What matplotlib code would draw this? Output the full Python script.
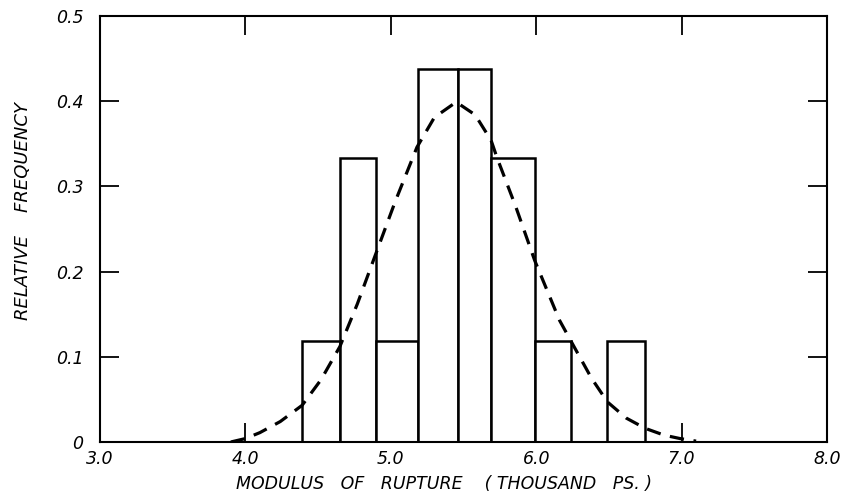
import numpy as np
import matplotlib
matplotlib.use("Agg")
import matplotlib.pyplot as plt

# histogram bins (thousand psi) and relative frequencies
bin_edges = [4.39, 4.65, 4.90, 5.19, 5.46, 5.69, 5.99, 6.24, 6.49, 6.75]
rel_freq = [0.118, 0.333, 0.118, 0.438, 0.438, 0.333, 0.118, 0.0, 0.118]

# fitted curve, points
curve_x = [3.90, 4.00, 4.10, 4.24, 4.39, 4.52, 4.65, 4.77, 4.88, 5.03, 5.18,
           5.30, 5.45, 5.58, 5.69, 5.73, 5.86, 5.99, 6.16, 6.26, 6.38, 6.49,
           6.62, 6.75, 6.88, 6.99, 7.10]
curve_y = [0.000, 0.004, 0.011, 0.024, 0.043, 0.073, 0.112, 0.162, 0.213, 0.282, 0.346,
           0.381, 0.399, 0.384, 0.354, 0.334, 0.276, 0.213, 0.143, 0.112, 0.075, 0.047,
           0.028, 0.016, 0.008, 0.004, 0.001]

xticks = [3.0, 4.0, 5.0, 6.0, 7.0, 8.0]
xtick_labels = ["3.0", "4.0", "5.0", "6.0", "7.0", "8.0"]
yticks = [0, 0.1, 0.2, 0.3, 0.4, 0.5]
ytick_labels = ["0", "0.1", "0.2", "0.3", "0.4", "0.5"]

plt.rcParams['font.family'] = ['DejaVu Sans']
fig = plt.figure(figsize=(8.53, 4.97), dpi=100)
ax = fig.add_axes([0.1172, 0.1107, 0.8523, 0.8571])

lefts = np.array(bin_edges[:-1])
widths = np.diff(bin_edges)
for l, w, h in zip(lefts, widths, rel_freq):
    if h > 0:
        ax.bar(l, h, width=w, align="edge", facecolor="white",
               edgecolor="black", linewidth=1.8, zorder=2)

ax.plot(curve_x, curve_y, color="black", linewidth=2.3,
        linestyle=(0, (4.5, 3.0)), zorder=3)

ax.set_xlim(3.0, 8.0)
ax.set_ylim(0, 0.5)
ax.set_xticks(xticks)
ax.set_xticklabels(xtick_labels, fontstyle="italic", fontsize=12.5)
ax.set_yticks(yticks)
ax.set_yticklabels(ytick_labels, fontstyle="italic", fontsize=12.5)
ax.tick_params(direction="in", length=14, width=1.3, top=True, right=True)
ax.tick_params(axis="y", pad=12)
ax.tick_params(axis="x", pad=6)
for s in ax.spines.values():
    s.set_linewidth(1.5)

ax.set_xlabel("MODULUS   OF   RUPTURE    ( THOUSAND   PS. )", fontstyle="italic",
              fontsize=12.5)
ax.set_ylabel("RELATIVE    FREQUENCY", fontstyle="italic", fontsize=13)
ax.xaxis.set_label_coords(0.473, -0.077)
ax.yaxis.set_label_coords(-0.093, 0.542)

fig.savefig("out.png", dpi=100)
